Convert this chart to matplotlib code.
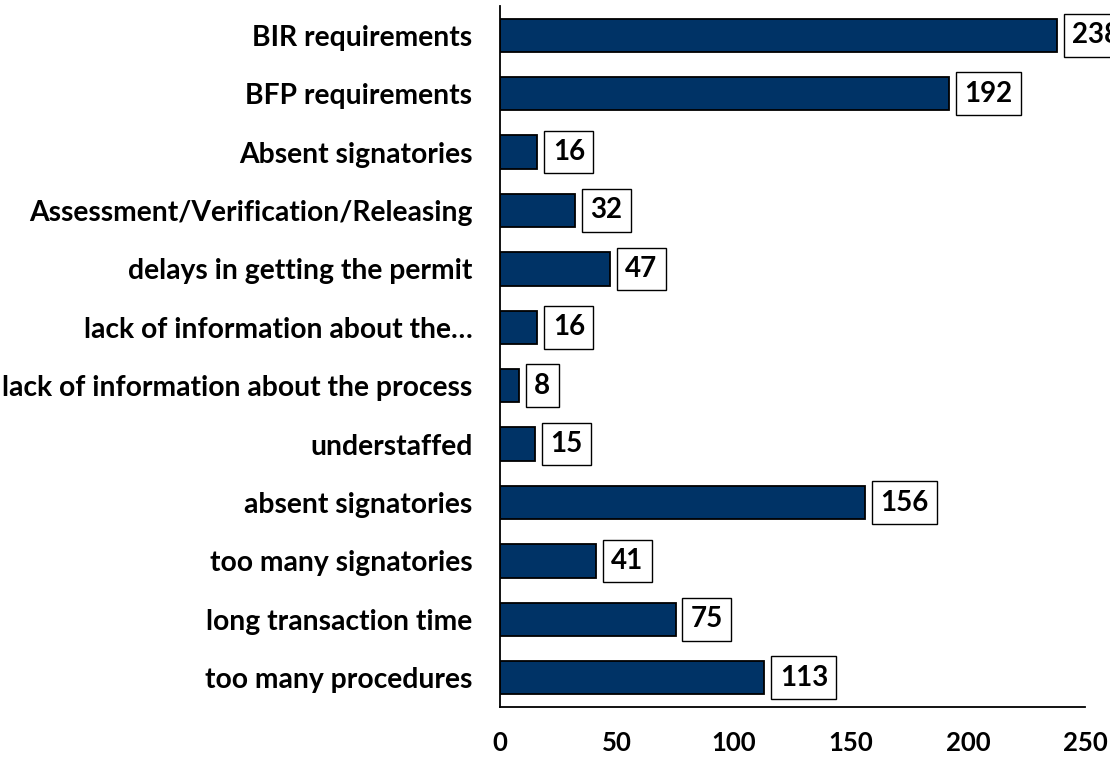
import matplotlib.pyplot as plt

plt.rcParams['font.family'] = ['Lato', 'DejaVu Sans']
plt.rcParams['font.weight'] = 'bold'

# problems reported, listed from top to bottom
categories = [
    'BIR requirements',
    'BFP requirements',
    'Absent signatories',
    'Assessment/Verification/Releasing',
    'delays in getting the permit',
    'lack of information about the\u2026',
    'lack of information about the process',
    'understaffed',
    'absent signatories',
    'too many signatories',
    'long transaction time',
    'too many procedures',
]
counts = [238, 192, 16, 32, 47, 16, 8, 15, 156, 41, 75, 113]
xticks = [0, 50, 100, 150, 200, 250]

fig = plt.figure(figsize=(11.1, 7.58), dpi=100)
ax = fig.add_axes([0.4505, 0.0673, 0.527, 0.9247])

ypos = list(range(len(categories)))
ax.barh(ypos, counts, height=0.57, color='#003366', edgecolor='black', linewidth=1.3)

# boxed value next to each bar
for y, v in zip(ypos, counts):
    ax.annotate(str(v), xy=(v, y), xytext=(11, 0), textcoords='offset points',
                ha='left', va='center', fontsize=20, fontweight='bold',
                bbox=dict(boxstyle='square,pad=0.3', fc='white', ec='black', lw=1),
                annotation_clip=False)

ax.set_ylim(len(categories) - 0.5, -0.5)
ax.set_xlim(0, 250)
ax.set_yticks(ypos)
ax.set_yticklabels(categories, fontsize=20.3, fontweight='bold')
ax.set_xticks(xticks)
ax.set_xticklabels([str(t) for t in xticks], fontsize=18.5, fontweight='bold')
ax.tick_params(axis='y', length=0, pad=20)
ax.tick_params(axis='x', length=0, pad=17)

for side in ['top', 'right']:
    ax.spines[side].set_visible(False)
ax.spines['left'].set_linewidth(1.3)
ax.spines['bottom'].set_linewidth(1.3)

fig.savefig('out.png', dpi=100)
